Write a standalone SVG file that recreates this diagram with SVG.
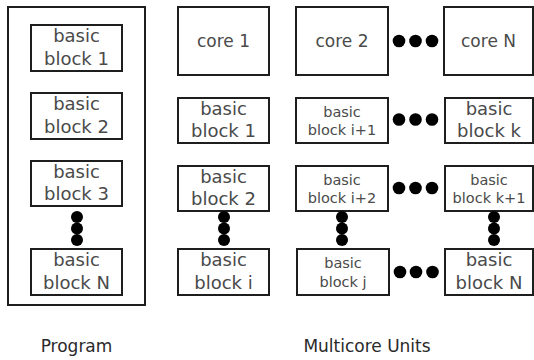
<svg xmlns="http://www.w3.org/2000/svg" width="534" height="360" viewBox="0 0 534 360">
<style>
rect{fill:#fff;stroke:#1e1e1e;stroke-width:2}
text{font-family:"DejaVu Sans","Liberation Sans",sans-serif;fill:#4a4a4a;text-anchor:middle}
.l{font-size:18px}
.s{font-size:14.5px}
.c{font-size:17px}
.lab{font-size:17px;fill:#2a2a2a}
circle{fill:#000}
</style>
<rect width="534" height="360" style="fill:#fff;stroke:none"/>
<g id="program">
<rect x="8" y="7" width="137" height="298"/>
</g>
<g id="pb1"><rect x="31" y="25" width="91" height="46"/><text class="l" x="76.5" y="42">basic</text><text class="l" x="76.5" y="65">block 1</text></g>
<g id="pb2"><rect x="31" y="93" width="91" height="46"/><text class="l" x="76.5" y="110">basic</text><text class="l" x="76.5" y="133">block 2</text></g>
<g id="pb3"><rect x="31" y="161" width="91" height="45"/><text class="l" x="76.5" y="178">basic</text><text class="l" x="76.5" y="200">block 3</text></g>
<g id="pbN"><rect x="31" y="249" width="91" height="46"/><text class="l" x="76.5" y="266">basic</text><text class="l" x="76.5" y="289">block N</text></g>
<g id="core1"><rect x="178" y="7" width="91" height="68"/><text class="c" x="223.5" y="47">core 1</text></g>
<g id="core2"><rect x="296" y="7" width="92" height="68"/><text class="c" x="342" y="47">core 2</text></g>
<g id="coreN"><rect x="444" y="7" width="89" height="68"/><text class="c" x="488.5" y="47">core N</text></g>
<g id="c1b1"><rect x="178" y="98" width="91" height="45"/><text class="l" x="223.5" y="115">basic</text><text class="l" x="223.5" y="137">block 1</text></g>
<g id="c1b2"><rect x="178" y="166" width="91" height="45"/><text class="l" x="223.5" y="183">basic</text><text class="l" x="223.5" y="205">block 2</text></g>
<g id="c1bi"><rect x="178" y="249" width="91" height="46"/><text class="l" x="223.5" y="266">basic</text><text class="l" x="223.5" y="289">block i</text></g>
<g id="c2b1"><rect x="296" y="98" width="92" height="45"/><text class="s" x="342" y="116.5">basic</text><text class="s" x="342" y="135">block i+1</text></g>
<g id="c2b2"><rect x="296" y="166" width="92" height="45"/><text class="s" x="342" y="184.5">basic</text><text class="s" x="342" y="203">block i+2</text></g>
<g id="c2bj"><rect x="297" y="249" width="92" height="46"/><text class="s" x="343" y="268">basic</text><text class="s" x="343" y="287">block j</text></g>
<g id="cNb1"><rect x="445" y="98" width="88" height="45"/><text class="l" x="489" y="115">basic</text><text class="l" x="489" y="137">block k</text></g>
<g id="cNb2"><rect x="445" y="166" width="88" height="45"/><text class="s" x="489" y="184.5">basic</text><text class="s" x="489" y="203">block k+1</text></g>
<g id="cNbN"><rect x="445" y="249" width="88" height="46"/><text class="l" x="489" y="266">basic</text><text class="l" x="489" y="289">block N</text></g>
<g id="connectors">
<circle cx="77" cy="217" r="6"/><circle cx="77" cy="228.5" r="6"/><circle cx="77" cy="240" r="6"/>
<circle cx="224" cy="217" r="6"/><circle cx="224" cy="228.5" r="6"/><circle cx="224" cy="240" r="6"/>
<circle cx="342" cy="217" r="6"/><circle cx="342" cy="228.5" r="6"/><circle cx="342" cy="240" r="6"/>
<circle cx="494" cy="217" r="6"/><circle cx="494" cy="228.5" r="6"/><circle cx="494" cy="240" r="6"/>
<circle cx="399" cy="41" r="6.3"/><circle cx="415.5" cy="41" r="6.3"/><circle cx="432" cy="41" r="6.3"/>
<circle cx="399" cy="119.5" r="6.3"/><circle cx="415.5" cy="119.5" r="6.3"/><circle cx="432" cy="119.5" r="6.3"/>
<circle cx="399" cy="188" r="6.3"/><circle cx="415.5" cy="188" r="6.3"/><circle cx="432" cy="188" r="6.3"/>
<circle cx="400" cy="272" r="6.3"/><circle cx="416" cy="272" r="6.3"/><circle cx="432.5" cy="272" r="6.3"/>
</g>
<text class="lab" x="76.5" y="352">Program</text>
<text class="lab" x="367" y="352">Multicore Units</text>
</svg>
